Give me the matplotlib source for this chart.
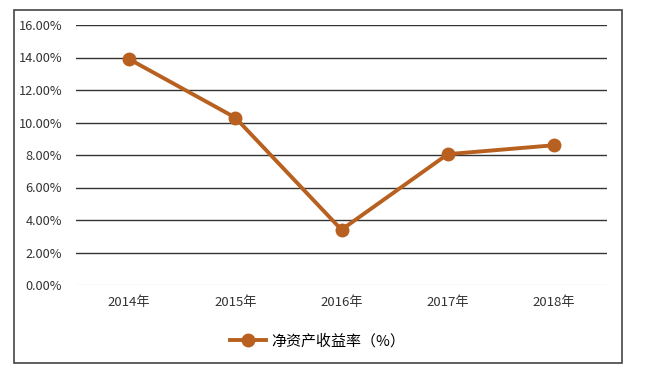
import matplotlib
matplotlib.use("Agg")
import matplotlib.pyplot as plt
from matplotlib.patches import Rectangle

plt.rcParams['font.family'] = ['Noto Sans CJK SC', 'DejaVu Sans']

years = ['2014年', '2015年', '2016年', '2017年', '2018年']
roe = [13.9, 10.3, 3.4, 8.05, 8.6]
yticks = [0, 2, 4, 6, 8, 10, 12, 14, 16]
series_name = '净资产收益率（%）'
color = '#B8601F'

fig = plt.figure(figsize=(6.49, 3.67), dpi=100)
ax = fig.add_axes([76/649, 1-285/367, (607-76)/649, (285-25)/367])

x = [i + 0.5 for i in range(len(years))]
ax.plot(x, roe, '-o', color=color, lw=2.8, ms=9, label=series_name, zorder=3)

ax.set_xlim(0, len(years))
ax.set_ylim(0, 16)
ax.set_yticks(yticks)
ax.set_yticklabels(['%.2f%%' % v for v in yticks], fontsize=9.2, color='#333333')
ax.set_xticks(x)
ax.set_xticklabels(years, fontsize=9.5, color='#333333')
ax.tick_params(axis='y', length=0, pad=10)
ax.tick_params(axis='x', length=0, pad=8)
for v in yticks[1:]:
    ax.axhline(v, color='#333333', lw=1, zorder=1)
ax.axhline(0, color='#e6e6e6', lw=1, zorder=1)
for s in ax.spines.values():
    s.set_visible(False)

leg = ax.legend(loc='center', bbox_to_anchor=(0.455, -0.215), frameon=False,
                fontsize=10.8, handlelength=2.4, handletextpad=0.3)

fig.patches.append(Rectangle((14/649, 1-363/367), (622-14)/649, (363-10)/367,
                             transform=fig.transFigure, fill=False,
                             ec='#444444', lw=1.2))

fig.savefig('out.png', dpi=100)
